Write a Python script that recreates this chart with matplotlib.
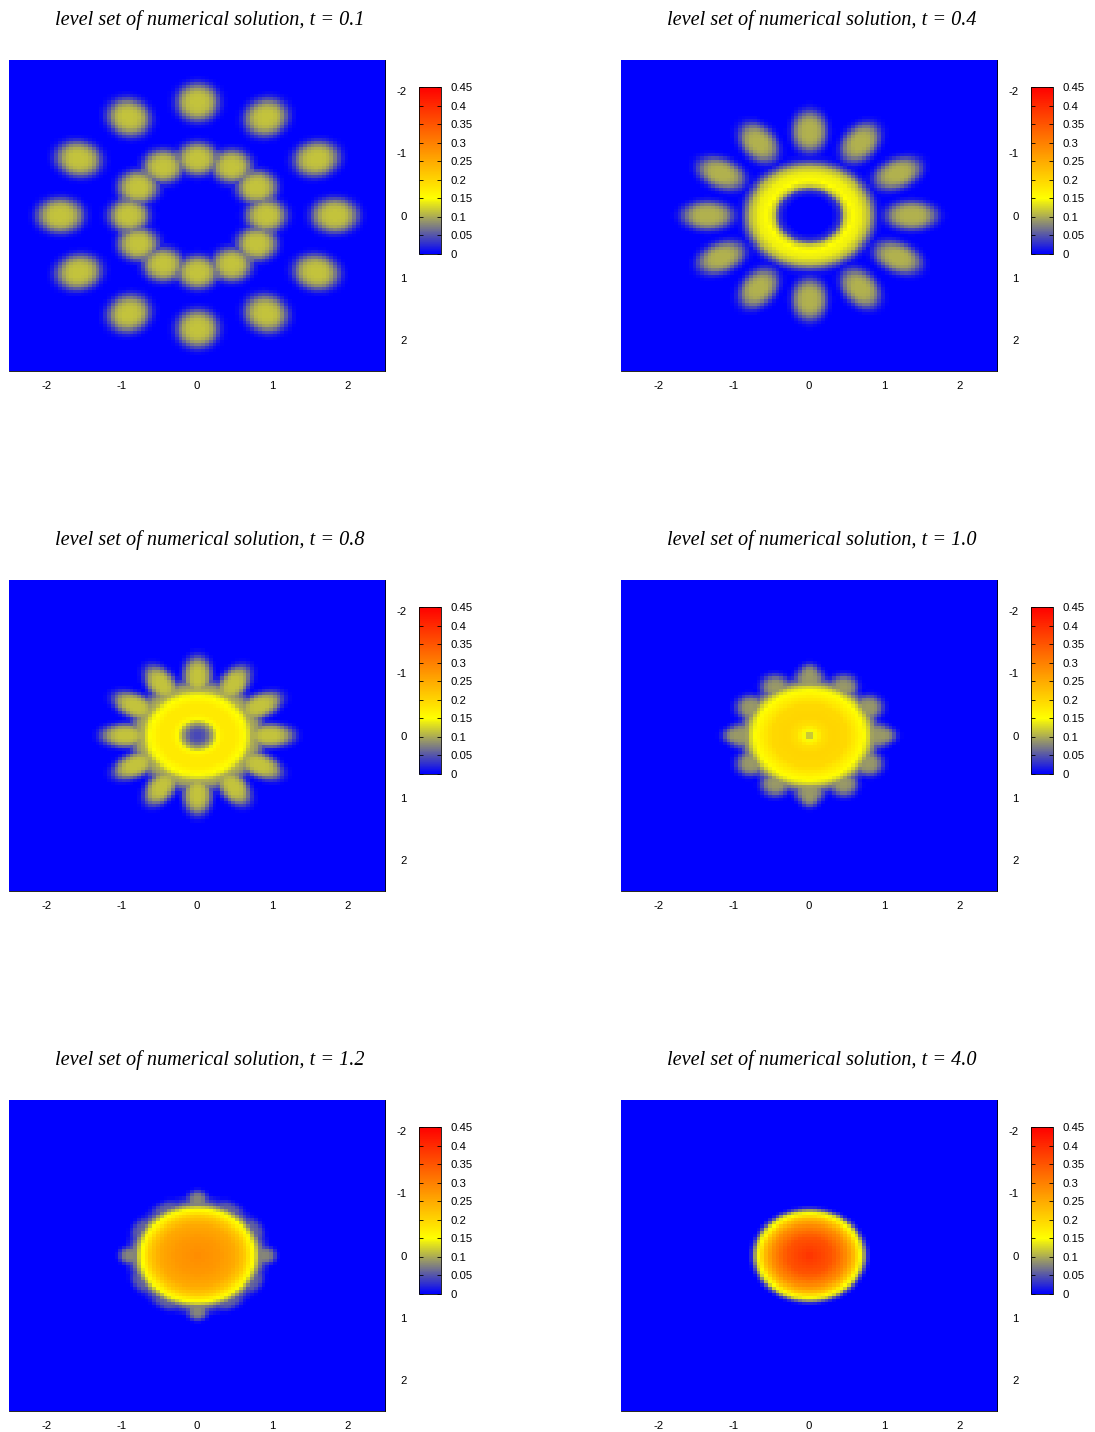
import numpy as np
import matplotlib
matplotlib.use('Agg')
import matplotlib.pyplot as plt
from matplotlib.colors import LinearSegmentedColormap

plt.rcParams['font.family'] = ['Liberation Sans']
plt.rcParams['axes.unicode_minus'] = False

W, H = 1095, 1432

times = ['0.1', '0.4', '0.8', '1.0', '1.2', '4.0']
axis_ticks = [-2, -1, 0, 1, 2]
cbar_ticks = [0, 0.05, 0.1, 0.15, 0.2, 0.25, 0.3, 0.35, 0.4, 0.45]
cbar_labels = ['0', '0.05', '0.1', '0.15', '0.2', '0.25', '0.3', '0.35', '0.4', '0.45']

# radial profile of the middle part
core_r = [
    [0, 0.7, 0.78, 0.91, 1.04, 1.12],
    [0, 0.3, 0.4, 0.48, 0.55, 0.68, 0.78, 0.86, 0.93, 1.0],
    [0, 0.1, 0.2, 0.27, 0.35, 0.5, 0.6, 0.66, 0.72, 0.8, 0.9, 1.0],
    [0, 0.04, 0.1, 0.16, 0.3, 0.5, 0.62, 0.72, 0.78, 0.85, 0.92, 1.0],
    [0, 0.3, 0.5, 0.62, 0.7, 0.75, 0.8, 0.86, 0.92, 1.0],
    [0, 0.3, 0.5, 0.6, 0.66, 0.71, 0.75, 0.79, 0.82],
]
core_v = [
    [0, 0, 0.06, 0.08, 0.06, 0],
    [0, 0, 0.03, 0.12, 0.15, 0.14, 0.11, 0.05, 0.01, 0],
    [0.04, 0.05, 0.1, 0.155, 0.175, 0.175, 0.155, 0.14, 0.105, 0.09, 0.04, 0],
    [0.115, 0.12, 0.16, 0.185, 0.2, 0.195, 0.17, 0.15, 0.125, 0.08, 0.04, 0],
    [0.285, 0.27, 0.25, 0.215, 0.17, 0.145, 0.1, 0.05, 0.02, 0],
    [0.39, 0.35, 0.28, 0.22, 0.16, 0.12, 0.05, 0.01, 0],
]

# blob rings: radius, radial width, tangential width, height, angle step in degrees
ring_r = [[0.91, 1.82], [1.35], [0.95], [0.88, 0.95], [0.82, 0.88], []]
ring_wr = [[0.27, 0.31], [0.34], [0.33], [0.22, 0.2], [0.15, 0.16], []]
ring_wt = [[0.27, 0.28], [0.23], [0.19], [0.2, 0.15], [0.22, 0.14], []]
ring_amp = [[0.115, 0.115], [0.105], [0.115], [0.09, 0.09], [0.06, 0.08], []]
ring_step = [[30, 30], [30], [30], [30, 90], [30, 90], []]

cmap = LinearSegmentedColormap.from_list('byr', [(0, '#0000ff'), (1 / 3, '#ffff00'), (1, '#ff0000')])

# grid cells of the solution
edges = np.linspace(-2.5, 2.5, 101)
centres = (edges[:-1] + edges[1:]) / 2
X, Y = np.meshgrid(centres, centres)
R = np.hypot(X, Y)
TH = np.degrees(np.arctan2(Y, X))


def field(i):
    z = np.interp(R, core_r[i], core_v[i])
    for r0, wr, wt, amp, step in zip(ring_r[i], ring_wr[i], ring_wt[i], ring_amp[i], ring_step[i]):
        for a in range(0, 360, step):
            d = np.radians((TH - a + 180) % 360 - 180)
            rho2 = ((R * np.cos(d) - r0) / wr) ** 2 + (R * np.sin(d) / wt) ** 2
            z = np.maximum(z, amp * np.exp(-rho2 ** 2))
    return z


def pixel_axes(fig, left, top, right, bottom):
    return fig.add_axes([left / W, 1 - bottom / H, (right - left) / W, (bottom - top) / H])


fig = plt.figure(figsize=(W / 100, H / 100), dpi=100)

for i, t in enumerate(times):
    x0 = [9, 621][i % 2]
    y0 = [60, 580, 1100][i // 2]

    ax = pixel_axes(fig, x0, y0, x0 + 376, y0 + 311)
    im = ax.imshow(field(i), cmap=cmap, vmin=0, vmax=0.45, extent=[-2.5, 2.5, 2.5, -2.5],
                   aspect='auto', interpolation='nearest')
    ax.set_xticks(axis_ticks)
    ax.set_yticks(axis_ticks)
    ax.yaxis.tick_right()
    ax.tick_params(axis='x', length=0, pad=7, labelsize=8.2)
    ax.tick_params(axis='y', length=0, pad=15.8, labelsize=8.2)
    for lab in ax.get_yticklabels():
        lab.set_ha('right')
    ax.spines['top'].set_visible(False)
    ax.spines['left'].set_visible(False)
    ax.spines['right'].set_linewidth(0.6)
    ax.spines['bottom'].set_linewidth(0.6)

    cax = pixel_axes(fig, x0 + 410, y0 + 27, x0 + 432, y0 + 194)
    cb = fig.colorbar(im, cax=cax, ticks=cbar_ticks)
    cb.ax.set_yticklabels(cbar_labels)
    cb.ax.tick_params(which='both', direction='in', left=True, right=True, length=3,
                      width=0.6, labelsize=8.2, pad=6.5)
    cb.outline.set_linewidth(0.6)

    fig.text((x0 + 201) / W, 1 - (y0 - 40) / H, 'level set of numerical solution, t = ' + t,
             family='Liberation Serif', style='italic', fontsize=14.6, ha='center', va='center')

fig.savefig('out.png', dpi=100)
